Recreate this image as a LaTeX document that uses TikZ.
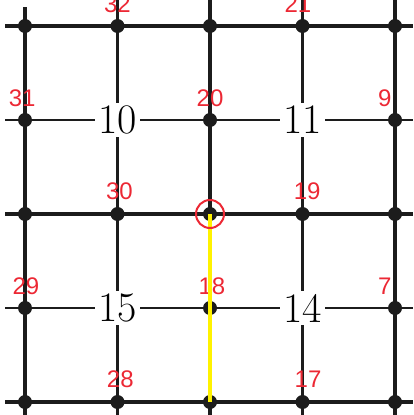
\documentclass[tikz,border=0pt]{standalone}
\usepackage{fontspec}
\newfontfamily\vlabelfont{Liberation Sans}
\usetikzlibrary{positioning}
\definecolor{gridblack}{RGB}{28,28,28}
\definecolor{labelred}{RGB}{236,40,52}
\definecolor{pathyellow}{RGB}{255,242,0}
\tikzset{
  gdot/.style   ={circle, fill=gridblack, minimum size=14pt, inner sep=0pt},
  gthick/.style ={line width=3.1pt, gridblack},
  gthin/.style  ={line width=2.2pt, gridblack},
  cellnum/.style={fill=white, inner sep=3pt, font=\fontsize{42}{42}\selectfont},
  vnum/.style   ={text=labelred, inner sep=0pt, font=\vlabelfont\fontsize{24}{24}\selectfont},
  markring/.style={circle, draw=labelred, line width=2pt, minimum size=28pt, inner sep=0pt},
  pathline/.style={line width=3.8pt, pathyellow},
}

\begin{document}
\begin{tikzpicture}[x=92.5pt, y=94pt]
  \useasboundingbox (-0.2703,0.2766) rectangle (4.1946,-4.1383);
  % ends of the grid lines
  \foreach \r in {0,...,4} {
    \coordinate (w\r) at (-0.216,-\r);
    \coordinate (e\r) at (4.1946,-\r);
  }
  \foreach \c in {1,...,4} \coordinate (n\c) at (\c,0.2766);
  \coordinate (n0) at (0,0.202);
  \foreach \c in {0,...,4} \coordinate (s\c) at (\c,-4.1383);
  % grid
  \foreach \r in {1,3} \draw[gthin] (w\r) -- (e\r);
  \foreach \c in {1,3} \draw[gthin] (n\c) -- (s\c);
  \foreach \r in {0,2,4} \draw[gthick] (w\r) -- (e\r);
  \foreach \c in {0,2,4} \draw[gthick] (n\c) -- (s\c);
  % vertices
  \foreach \c/\r in {0/0,1/0,2/0,3/0,4/0, 0/1,2/1,4/1, 0/2,1/2,2/2,3/2,4/2,
                     0/3,2/3,4/3, 0/4,1/4,2/4,3/4,4/4}
    \node[gdot] (v\c\r) at (\c,-\r) {};
  % cells
  \node[cellnum] (c10) at (1,-1) {10};
  \node[cellnum] (c11) at (3,-1) {11};
  \node[cellnum] (c15) at (1,-3) {15};
  \node[cellnum] (c14) at (3,-3) {14};
  % vertex numbers
  \node[vnum] (l32) at (1.0,0.234) {32};
  \node[vnum] (l21) at (2.95,0.234) {21};
  \node[vnum] (l31) at (-0.03,-0.77) {31};
  \node[vnum] (l20) at (2.0,-0.77) {20};
  \node[vnum] (l9)  at (3.89,-0.77) {9};
  \node[vnum] (l30) at (1.02,-1.755) {30};
  \node[vnum] (l19) at (3.05,-1.755) {19};
  \node[vnum] (l29) at (0.01,-2.77) {29};
  \node[vnum] (l18) at (2.02,-2.77) {18};
  \node[vnum] (l7)  at (3.89,-2.77) {7};
  \node[vnum] (l28) at (1.03,-3.755) {28};
  \node[vnum] (l17) at (3.06,-3.755) {17};
  % path and marked vertex
  \draw[pathline] (v22.center) -- (v24.center);
  \node[markring] (ring) at (v22) {};
\end{tikzpicture}
\end{document}
